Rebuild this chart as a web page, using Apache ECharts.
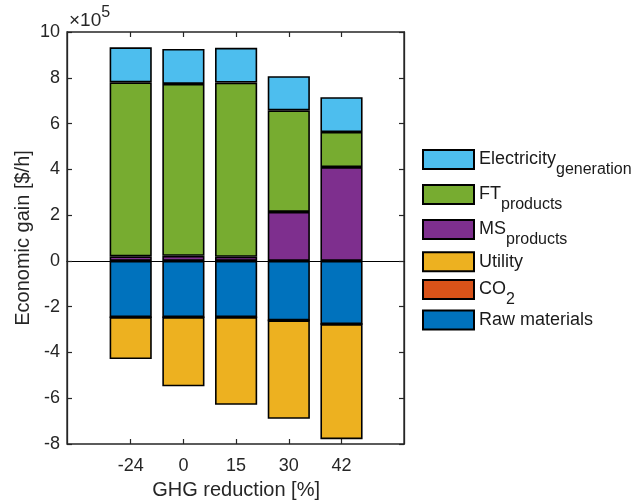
<!DOCTYPE html>
<html><head><meta charset="utf-8">
<script src="https://cdn.jsdelivr.net/npm/echarts@6/dist/echarts.min.js"></script>
<style>html,body{margin:0;padding:0;background:#fff}#c{width:636px;height:502px}</style>
</head><body><div id="c"></div>
<script>
// ---- data ($/h) ----
const categories = ['-24', '0', '15', '30', '42'];
const electricity = [153000, 153000, 152000, 149000, 152000];
const ftProducts = [760000, 751000, 761000, 444000, 153000];
const msProducts = [20000, 22000, 18000, 214000, 410000];
const utility = [-183000, -302000, -383000, -430000, -503000];
const co2 = [0, 0, 0, 0, 0];
const rawMaterials = [-246000, -246000, -246000, -260000, -276000];
const yMin = -800000, yMax = 1000000, yStep = 200000;
const yScaleText = ['×10', '5'];

const FONT = 'Liberation Sans';
const TXT = '#262626';
const chart = echarts.init(document.getElementById('c'), null, {renderer: 'canvas'});

function bar(name, data, color) {
  return {
    name: name, type: 'bar', stack: 'total', data: data,
    xAxisIndex: 1, yAxisIndex: 1, barWidth: '80%',
    itemStyle: {color: color, borderColor: '#000', borderWidth: 1.6},
    emphasis: {disabled: true}
  };
}

const richLegend = {
  a: {fontSize: 18, lineHeight: 20, fontFamily: FONT, color: '#1a1a1a', padding: [10, 0, 10, 0]},
  s: {fontSize: 16, lineHeight: 16, fontFamily: FONT, color: '#1a1a1a', padding: [22, 0, 2, 0]},
  p: {fontSize: 18, lineHeight: 20, fontFamily: FONT, color: '#1a1a1a'}
};
const legendDefs = [
  ['Electricity', '{a|Electricity}{s|generation}', 150, true],
  ['FT', '{a|FT}{s|products}', 185, true],
  ['MS', '{a|MS}{s|products}', 220, true],
  ['Utility', '{p|Utility}', 251.7, false],
  ['CO2', '{a|CO}{s|2}', 280, true],
  ['Raw materials', '{p|Raw materials}', 310, false]
];
const legends = legendDefs.map(function (d) {
  return {
    data: [d[0]], left: 422, top: d[2] - (d[3] ? 10.5 : 0.5), padding: 0,
    orient: 'vertical', icon: 'rect', itemWidth: 51, itemHeight: 19,
    selectedMode: false, formatter: function () { return d[1]; },
    textStyle: {rich: richLegend, fontSize: 18, fontFamily: FONT}
  };
});

chart.setOption({
  animation: false,
  backgroundColor: '#fff',
  textStyle: {fontFamily: FONT},
  title: {
    text: '{a|' + yScaleText[0] + '}{b|' + yScaleText[1] + '}',
    left: 69, top: 8, padding: 0,
    textStyle: {fontWeight: 'normal', rich: {
      a: {fontSize: 19, lineHeight: 20, fontWeight: 'normal', fontFamily: FONT, color: TXT, padding: [6, 0, 0, 0]},
      b: {fontSize: 16, lineHeight: 16, fontWeight: 'normal', fontFamily: FONT, color: TXT, padding: [0, 0, 10, 0]}
    }}
  },
  legend: legends,
  grid: [
    {left: 67, top: 32, width: 337, height: 412, show: true, borderColor: TXT, borderWidth: 1.3,
      backgroundColor: 'transparent', containLabel: false, outerBoundsMode: 'none'},
    {left: 104.35, top: 32, width: 263.5, height: 412, containLabel: false, outerBoundsMode: 'none'}
  ],
  xAxis: [
    {gridIndex: 0, type: 'value', min: 0, max: 1,
      axisLine: {show: true, onZero: true, lineStyle: {color: '#000', width: 1.2}},
      axisTick: {show: false}, axisLabel: {show: false}, splitLine: {show: false}},
    {gridIndex: 1, type: 'category', data: categories, position: 'bottom',
      axisLine: {show: false, onZero: false},
      axisTick: {show: true, inside: true, alignWithLabel: true, length: 5, lineStyle: {color: TXT, width: 1.2}},
      axisLabel: {fontSize: 18, color: TXT, margin: 13, fontFamily: FONT},
      name: 'GHG reduction [%]', nameLocation: 'middle', nameGap: 36, nameMoveOverlap: false,
      nameTextStyle: {fontSize: 20, color: TXT, fontFamily: FONT, verticalAlign: 'top'}},
    {gridIndex: 1, type: 'category', data: categories, position: 'top',
      axisLine: {show: false, onZero: false},
      axisTick: {show: true, inside: true, alignWithLabel: true, length: 5, lineStyle: {color: TXT, width: 1.2}},
      axisLabel: {show: false}}
  ],
  yAxis: [
    {gridIndex: 0, type: 'value', min: yMin, max: yMax, interval: yStep, position: 'left',
      axisLine: {show: true, onZero: false, lineStyle: {color: TXT, width: 1.3}},
      axisTick: {show: true, inside: true, length: 5, lineStyle: {color: TXT, width: 1.2}},
      axisLabel: {fontSize: 18, color: TXT, margin: 7, fontFamily: FONT,
        formatter: function (v) { return String(Math.round(v / 100000)); }},
      splitLine: {show: false},
      name: 'Economic gain [$/h]', nameLocation: 'middle', nameGap: 34, nameMoveOverlap: false,
      nameTextStyle: {fontSize: 20, color: TXT, fontFamily: FONT}},
    {gridIndex: 1, type: 'value', min: yMin, max: yMax, interval: yStep, show: false},
    {gridIndex: 0, type: 'value', min: yMin, max: yMax, interval: yStep, position: 'right',
      axisLine: {show: true, onZero: false, lineStyle: {color: TXT, width: 1.3}},
      axisTick: {show: true, inside: true, length: 5, lineStyle: {color: TXT, width: 1.2}},
      axisLabel: {show: false}, splitLine: {show: false}}
  ],
  series: [
    bar('Raw materials', rawMaterials, '#0072BD'),
    bar('CO2', co2, '#D95319'),
    bar('Utility', utility, '#EDB120'),
    bar('MS', msProducts, '#7E2F8E'),
    bar('FT', ftProducts, '#77AC30'),
    bar('Electricity', electricity, '#4DBEEE')
  ]
});
</script>
</body></html>
